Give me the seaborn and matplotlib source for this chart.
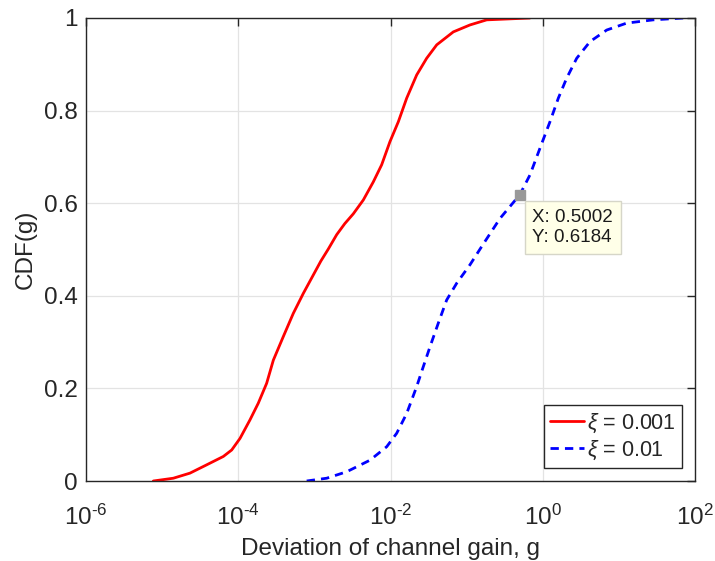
import numpy as np
import pandas as pd
import matplotlib
matplotlib.use("Agg")
import matplotlib.pyplot as plt
import seaborn as sns

# CDF of channel-gain deviation, read as (log10 g, CDF) pairs
red_logx = [-5.116, -4.853, -4.634, -4.414, -4.196, -4.086, -3.977, -3.846, -3.737,
            -3.627, -3.539, -3.408, -3.277, -3.146, -3.014, -2.915, -2.817, -2.707,
            -2.600, -2.489, -2.357, -2.226, -2.116, -2.007, -1.897, -1.787, -1.656,
            -1.525, -1.393, -1.175, -0.956, -0.736, -0.168]
red_cdf = [0.0, 0.006, 0.017, 0.035, 0.053, 0.067, 0.092, 0.132, 0.168,
           0.211, 0.261, 0.312, 0.362, 0.405, 0.445, 0.475, 0.501, 0.532,
           0.556, 0.577, 0.607, 0.646, 0.683, 0.733, 0.776, 0.827, 0.877,
           0.913, 0.942, 0.970, 0.985, 0.996, 1.0]

blue_logx = [-3.101, -2.838, -2.575, -2.269, -2.050, -1.919, -1.787, -1.656, -1.569,
             -1.481, -1.372, -1.262, -1.131, -0.956, -0.800, -0.562, -0.301, -0.168,
             -0.036, 0.095, 0.205, 0.314, 0.446, 0.621, 0.840, 1.103, 1.452, 1.846]
blue_cdf = [0.0, 0.006, 0.020, 0.045, 0.074, 0.103, 0.146, 0.204, 0.247,
            0.290, 0.341, 0.391, 0.427, 0.467, 0.507, 0.567, 0.6184, 0.661,
            0.719, 0.776, 0.827, 0.870, 0.913, 0.949, 0.974, 0.989, 0.996, 1.0]

series_labels = [r"$\mathit{\xi}$ = 0.001", r"$\mathit{\xi}$ = 0.01"]
x_exponents = ["-6", "-4", "-2", "0", "2"]
tip_x, tip_y = 0.5002, 0.6184

df = pd.concat([
    pd.DataFrame({"g": np.power(10.0, red_logx), "cdf": red_cdf, "s": series_labels[0]}),
    pd.DataFrame({"g": np.power(10.0, blue_logx), "cdf": blue_cdf, "s": series_labels[1]}),
], ignore_index=True)

sns.set_style("whitegrid")
plt.rcParams["font.family"] = ["Liberation Sans", "DejaVu Sans"]
plt.rcParams["mathtext.fontset"] = "custom"
plt.rcParams["mathtext.rm"] = "Liberation Sans"
plt.rcParams["mathtext.it"] = "Liberation Sans:italic"
plt.rcParams["mathtext.default"] = "regular"

fig = plt.figure(figsize=(7.15, 5.61), dpi=100)
ax = fig.add_axes([86 / 715, 1 - 481 / 561, 609 / 715, 463 / 561])

sns.lineplot(data=df, x="g", y="cdf", hue="s", style="s",
             palette={series_labels[0]: "#FF0000", series_labels[1]: "#0000FF"},
             dashes={series_labels[0]: "", series_labels[1]: (3, 2.2)},
             linewidth=2.0, ax=ax, sort=False, estimator=None)

ax.set_xscale("log")
ax.set_xlim(1e-6, 1e2)
ax.set_ylim(0, 1)
ax.set_xticks([10.0 ** int(e) for e in x_exponents])
ax.set_xticklabels([r"$10^{\text{%s}}$" % e for e in x_exponents])
ax.xaxis.set_minor_locator(matplotlib.ticker.NullLocator())
ax.set_yticks([0, 0.2, 0.4, 0.6, 0.8, 1.0])
ax.set_yticklabels(["0", "0.2", "0.4", "0.6", "0.8", "1"])

ax.grid(True, color="#E3E3E3", linewidth=0.9)
for sp in ax.spines.values():
    sp.set_visible(True)
    sp.set_color("#262626")
    sp.set_linewidth(1.0)
ax.tick_params(direction="in", length=6, width=1.0, color="#262626",
               top=True, right=True, labelsize=17.5, labelcolor="#262626")
ax.tick_params(axis="y", pad=6)
ax.tick_params(axis="x", pad=17)

ax.set_xlabel("Deviation of channel gain, g", fontsize=17.5, color="#262626", labelpad=6)
ax.set_ylabel("CDF(g)", fontsize=17.5, color="#262626", labelpad=5)

leg = ax.legend(loc="lower right", fontsize=15.5, frameon=True, fancybox=False,
                edgecolor="#262626", framealpha=1, handlelength=1.55,
                handletextpad=0.15, borderpad=0.3, labelspacing=0.15,
                borderaxespad=0.6)
leg.get_frame().set_linewidth(1.0)

# data tip on the xi = 0.01 curve
ax.plot([tip_x], [tip_y], marker="s", markersize=7, color="#999999",
        markeredgecolor="#999999", zorder=5)
ax.annotate(f"X: {tip_x:.4f}\nY: {tip_y:.4f}", xy=(tip_x, tip_y),
            xytext=(9, -10), textcoords="offset points", ha="left", va="top",
            fontsize=13.5, color="#1a1a1a", linespacing=1.3,
            bbox=dict(boxstyle="square,pad=0.4", facecolor="#FFFFE8",
                      edgecolor="#D6D6C8", linewidth=1.0), zorder=6)

fig.savefig("out.png", dpi=100)
